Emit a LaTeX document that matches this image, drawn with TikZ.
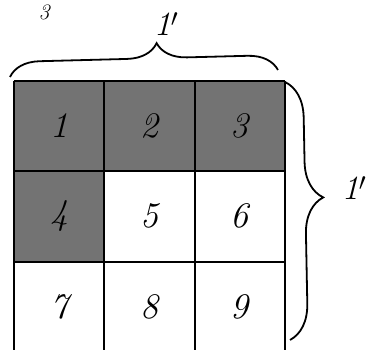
\documentclass[tikz,border=0pt]{standalone}
\usepackage{tikz}
\usetikzlibrary{positioning, decorations.pathreplacing}

\begin{document}
\begin{tikzpicture}[x=1pt, y=1pt,
    cell/.style={minimum width=90pt, minimum height=90pt, inner sep=0pt,
                 font=\fontsize{36}{36}\selectfont\itshape},
    shaded/.style={cell, fill=black!55},
    gridline/.style={line width=2pt},
    brc/.style={decorate, line width=1.8pt},
    dim/.style={font=\fontsize{34}{34}\selectfont\itshape},
  ]
    \useasboundingbox (0,0) rectangle (369,350);

    \node[shaded] (c1) at (59,224) {1};
    \node[shaded] (c2) [right=0pt of c1] {2};
    \node[shaded] (c3) [right=0pt of c2] {3};
    \node[shaded] (c4) [below=0pt of c1] {4};
    \node[cell]   (c5) [right=0pt of c4] {5};
    \node[cell]   (c6) [right=0pt of c5] {6};
    \node[cell]   (c7) [below=0pt of c4] {7};
    \node[cell]   (c8) [right=0pt of c7] {8};
    \node[cell]   (c9) [right=0pt of c8] {9};

    % grid lines, open at the bottom
    \draw[gridline] (c1.north west) -- (c3.north east);
    \draw[gridline] (c4.north west) -- (c6.north east);
    \draw[gridline] (c7.north west) -- (c9.north east);
    \draw[gridline] (c1.north west) -- (c7.south west);
    \draw[gridline] (c2.north west) -- (c8.south west);
    \draw[gridline] (c3.north west) -- (c9.south west);
    \draw[gridline] (c3.north east) -- (c9.south east);

    % braces and their lengths
    \coordinate (tl) at (10,273);
    \coordinate (tr) at (278,280);
    \coordinate (rt) at (285,268);
    \coordinate (rb) at (290,10);
    \draw[brc, decoration={brace, amplitude=30pt, aspect=0.55}] (tl) -- (tr);
    \draw[brc, decoration={brace, amplitude=36pt, aspect=0.45}] (rt) -- (rb);
    \node[dim] (wlab) at (166,326) {1$'$};
    \node[dim] (hlab) at (354,162) {1$'$};
    \node[font=\fontsize{22}{22}\selectfont\itshape] (pg) at (44,338) {3};
  \end{tikzpicture}
\end{document}
